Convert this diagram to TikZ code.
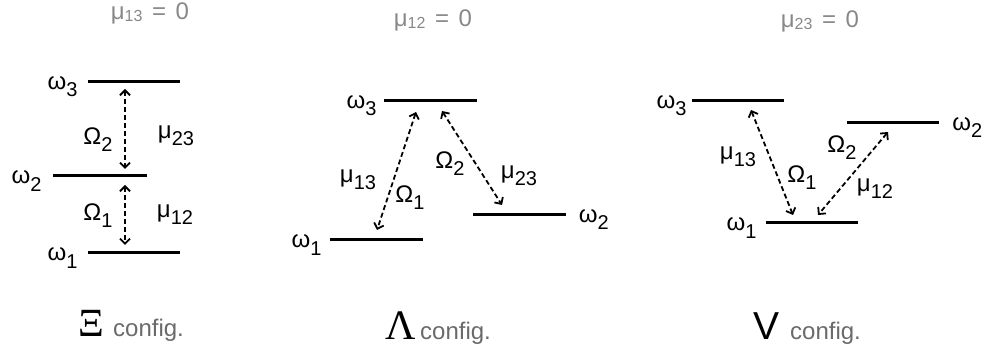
\documentclass[tikz,border=0pt]{standalone}
\usepackage{fontspec}
\setmainfont{Liberation Sans}
\newfontfamily\serifgr{Liberation Serif}
\usetikzlibrary{positioning, arrows.meta}
\definecolor{notegray}{HTML}{888888}
\definecolor{cfggray}{HTML}{6A6A6A}
\newcommand{\lab}[2]{#1\raisebox{-0.3em}{\fontsize{20}{20}\selectfont #2}}
\newcommand{\zeronote}[1]{μ\raisebox{-0.12em}{\fontsize{16}{16}\selectfont #1}\hspace{0.4em}=\hspace{0.4em}0}

\begin{document}
\begin{tikzpicture}[x=1pt, y=-1pt,
    node distance=10pt,
    energy/.style={fill=black, minimum width=92pt, minimum height=3pt, inner sep=0pt},
    trans/.style={{Straight Barb[length=5pt,width=10pt]}-{Straight Barb[length=5pt,width=10pt]}, line width=1.8pt, dash pattern=on 5pt off 3pt},
    lab/.style={font=\fontsize{24}{24}\selectfont, inner sep=0pt},
    wlab/.style={lab, yshift=-5pt},
    note/.style={font=\fontsize{24}{24}\selectfont, text=notegray, inner sep=0pt},
    cfg/.style={font=\fontsize{24}{24}\selectfont, text=cfggray, inner sep=0pt, anchor=base west},
    sym/.style={inner sep=0pt, anchor=base}
  ]
    \useasboundingbox (0,0) rectangle (983,352);

    % Xi configuration
    \node[note] (xinote) at (150,13) {\zeronote{13}};
    \node[energy] (xi3) at (134,82) {};
    \node[energy, minimum width=94pt] (xi2) at (100,176) {};
    \node[energy] (xi1) at (134,253) {};
    \node[wlab, left=10pt of xi3] (xiw3) {\lab{ω}{3}};
    \node[wlab, left=11pt of xi2] (xiw2) {\lab{ω}{2}};
    \node[wlab, left=10pt of xi1] (xiw1) {\lab{ω}{1}};
    \coordinate (xia) at (125,89);
    \coordinate (xib) at (125,169);
    \coordinate (xic) at (125,185);
    \coordinate (xid) at (125,245);
    \draw[trans] (xia) -- (xib);
    \draw[trans] (xic) -- (xid);
    \node[lab] (xiO2) at (98,140) {\lab{Ω}{2}};
    \node[lab] (ximu23) at (176,136) {\lab{μ}{23}};
    \node[lab] (xiO1) at (98,216) {\lab{Ω}{1}};
    \node[lab] (ximu12) at (175,215) {\lab{μ}{12}};
    \node[sym, font=\serifgr\fontsize{40}{40}\selectfont] (xisym) at (91,337) {Ξ};
    \node[cfg] (xicfg) at (113,337) {config.};

    % Lambda configuration
    \node[note] (lanote) at (433,20) {\zeronote{12}};
    \node[energy, minimum width=93pt] (la3) at (430.5,101) {};
    \node[energy, minimum width=93pt] (la1) at (376.5,240) {};
    \node[energy, minimum width=93pt] (la2) at (519,214.5) {};
    \node[wlab, left=7pt of la3] (law3) {\lab{ω}{3}};
    \node[wlab, left=8pt of la1] (law1) {\lab{ω}{1}};
    \node[wlab, right=13pt of la2] (law2) {\lab{ω}{2}};
    \coordinate (laa) at (416,112);
    \coordinate (lab) at (377,230);
    \coordinate (lac) at (442,111);
    \coordinate (lad) at (502,205);
    \draw[trans] (laa) -- (lab);
    \draw[trans] (lac) -- (lad);
    \node[lab] (lamu13) at (358,180) {\lab{μ}{13}};
    \node[lab] (laO1) at (410,198) {\lab{Ω}{1}};
    \node[lab] (laO2) at (450,164) {\lab{Ω}{2}};
    \node[lab] (lamu23) at (519,176) {\lab{μ}{23}};
    \node[sym, font=\serifgr\fontsize{42}{42}\selectfont] (lasym) at (401,340) {Λ};
    \node[cfg] (lacfg) at (420,340) {config.};

    % V configuration
    \node[note] (vnote) at (820,21) {\zeronote{23}};
    \node[energy] (v3) at (738,101) {};
    \node[energy] (v2) at (893,122.5) {};
    \node[energy] (v1) at (812,223) {};
    \node[wlab, left=5pt of v3] (vw3) {\lab{ω}{3}};
    \node[wlab, left=9pt of v1] (vw1) {\lab{ω}{1}};
    \node[wlab, right=13pt of v2] (vw2) {\lab{ω}{2}};
    \coordinate (va) at (751,110);
    \coordinate (vb) at (793,215);
    \coordinate (vc) at (888,132);
    \coordinate (vd) at (818,215);
    \draw[trans] (va) -- (vb);
    \draw[trans] (vc) -- (vd);
    \node[lab] (vmu13) at (738,157) {\lab{μ}{13}};
    \node[lab] (vO1) at (802,178) {\lab{Ω}{1}};
    \node[lab] (vO2) at (842,148) {\lab{Ω}{2}};
    \node[lab] (vmu12) at (875,189) {\lab{μ}{12}};
    \node[sym, font=\fontsize{39}{39}\selectfont] (vsym) at (766,340) {V};
    \node[cfg] (vcfg) at (790,340) {config.};
  \end{tikzpicture}
\end{document}
